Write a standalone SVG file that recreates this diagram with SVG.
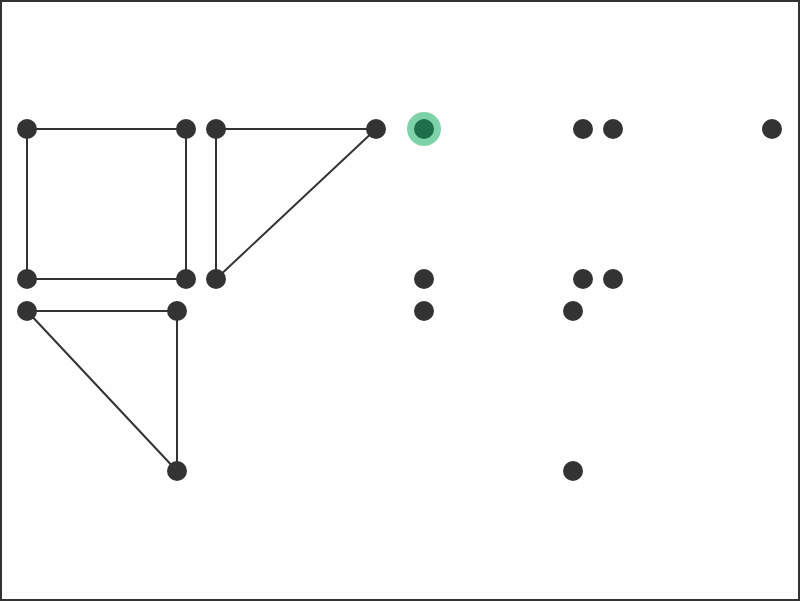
<svg xmlns="http://www.w3.org/2000/svg" width="800" height="601" viewBox="0 0 800 601">
<style>
.e{stroke:#333;stroke-width:2;fill:none}
.n{fill:#333}
</style>
<rect x="1" y="1" width="798" height="599" fill="#fefefe" stroke="#333" stroke-width="2"/>
<g id="edges">
<line class="e" x1="27" y1="129" x2="186" y2="129"/>
<line class="e" x1="27" y1="129" x2="27" y2="279"/>
<line class="e" x1="186" y1="129" x2="186" y2="279"/>
<line class="e" x1="27" y1="279" x2="186" y2="279"/>
<line class="e" x1="216" y1="129" x2="376" y2="129"/>
<line class="e" x1="216" y1="129" x2="216" y2="279"/>
<line class="e" x1="376" y1="129" x2="216" y2="279"/>
<line class="e" x1="27" y1="311" x2="177" y2="311"/>
<line class="e" x1="177" y1="311" x2="177" y2="471"/>
<line class="e" x1="27" y1="311" x2="177" y2="471"/>
</g>
<g id="n1"><circle class="n" cx="27" cy="129" r="10"/></g>
<g id="n2"><circle class="n" cx="186" cy="129" r="10"/></g>
<g id="n3"><circle class="n" cx="216" cy="129" r="10"/></g>
<g id="n4"><circle class="n" cx="376" cy="129" r="10"/></g>
<g id="n5"><circle cx="424" cy="129" r="17" fill="#7dd3a8"/><circle cx="424" cy="129" r="10" fill="#1e6e4a"/></g>
<g id="n6"><circle class="n" cx="583" cy="129" r="10"/></g>
<g id="n7"><circle class="n" cx="613" cy="129" r="10"/></g>
<g id="n8"><circle class="n" cx="772" cy="129" r="10"/></g>
<g id="n9"><circle class="n" cx="27" cy="279" r="10"/></g>
<g id="n10"><circle class="n" cx="186" cy="279" r="10"/></g>
<g id="n11"><circle class="n" cx="216" cy="279" r="10"/></g>
<g id="n12"><circle class="n" cx="424" cy="279" r="10"/></g>
<g id="n13"><circle class="n" cx="583" cy="279" r="10"/></g>
<g id="n14"><circle class="n" cx="613" cy="279" r="10"/></g>
<g id="n15"><circle class="n" cx="27" cy="311" r="10"/></g>
<g id="n16"><circle class="n" cx="177" cy="311" r="10"/></g>
<g id="n17"><circle class="n" cx="424" cy="311" r="10"/></g>
<g id="n18"><circle class="n" cx="573" cy="311" r="10"/></g>
<g id="n19"><circle class="n" cx="177" cy="471" r="10"/></g>
<g id="n20"><circle class="n" cx="573" cy="471" r="10"/></g>
</svg>
